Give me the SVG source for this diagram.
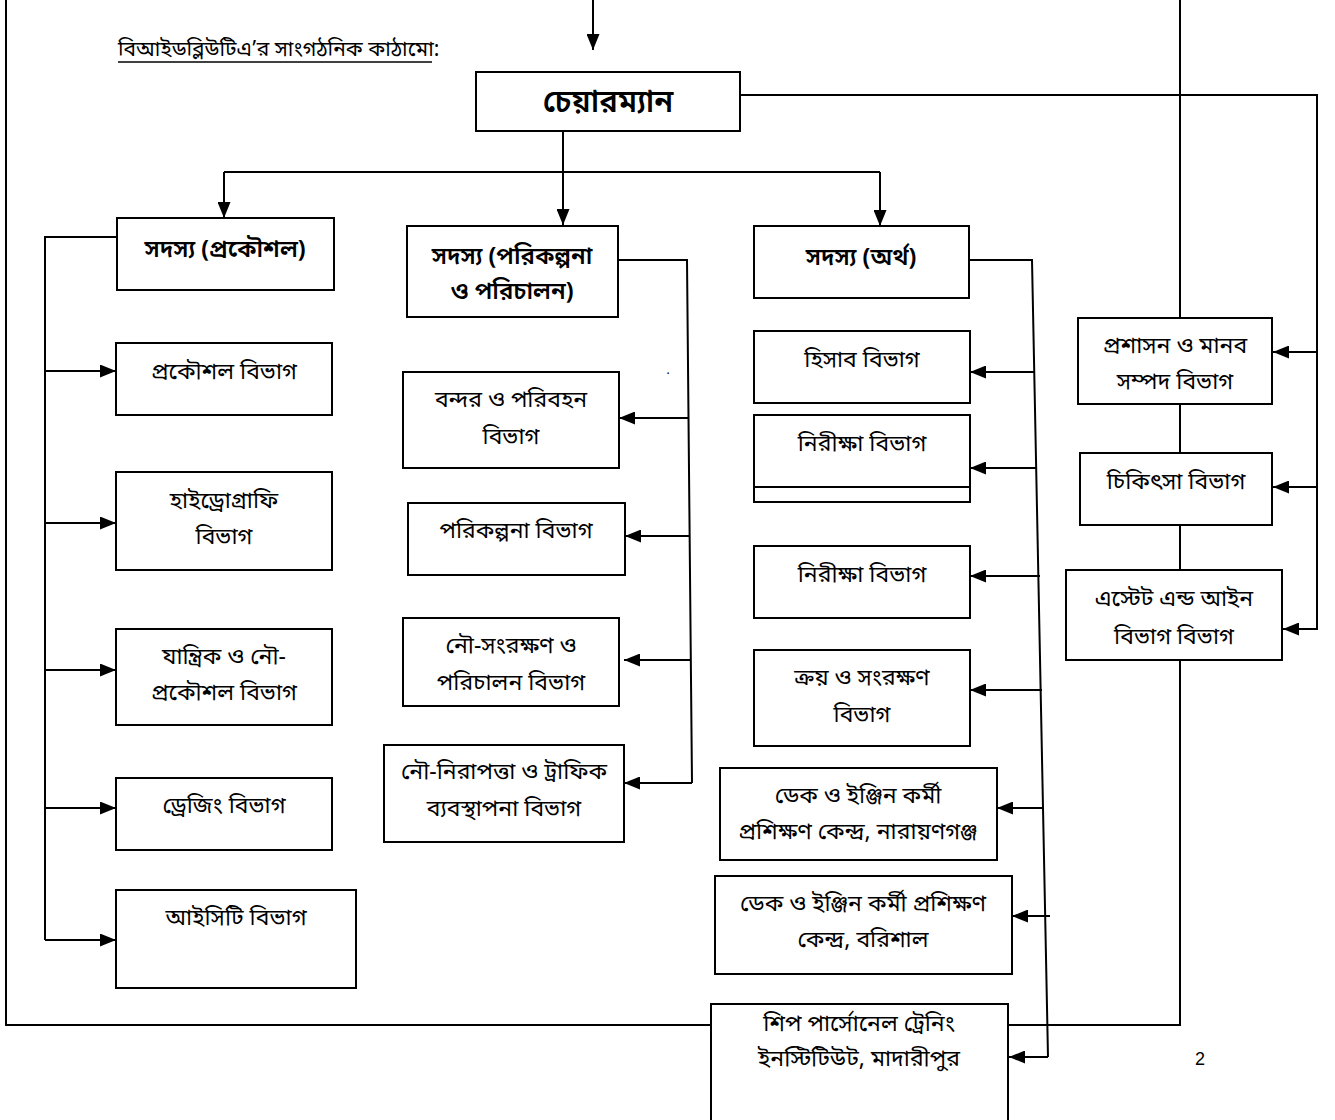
<svg xmlns="http://www.w3.org/2000/svg" width="1335" height="1120" viewBox="0 0 1335 1120">
<style>
.ln{fill:none;stroke:#000;stroke-width:2}
.bx{fill:#fff;stroke:#000;stroke-width:2}
.t{font-family:"Noto Sans Bengali","Noto Serif Bengali","Lohit Bengali","Noto Sans","Liberation Sans",sans-serif;font-size:23px;text-anchor:middle;fill:#000}
.b{font-weight:600;font-size:24px}
</style>
<defs>
<marker id="ah" viewBox="0 0 16 13" refX="16" refY="6.5" markerWidth="16" markerHeight="13" markerUnits="userSpaceOnUse" orient="auto"><path d="M0,0 L16,6.5 L0,13 z" fill="#000"/></marker>
</defs>
<rect width="1335" height="1120" fill="#fff"/>
<g id="connectors">
<polyline class="ln" points="6,0 6,1025 1180,1025 1180,0"/>
<line class="ln" x1="593" y1="0" x2="593" y2="50" marker-end="url(#ah)"/>
<polyline class="ln" points="740,95 1317,95 1317,630"/>
<line class="ln" x1="1317" y1="352" x2="1273" y2="352" marker-end="url(#ah)"/>
<line class="ln" x1="1317" y1="487" x2="1273" y2="487" marker-end="url(#ah)"/>
<line class="ln" x1="1317" y1="629" x2="1283" y2="629" marker-end="url(#ah)"/>
<polyline class="ln" points="563,131 563,172"/>
<polyline class="ln" points="224,172 880,172"/>
<line class="ln" x1="224" y1="172" x2="224" y2="218" marker-end="url(#ah)"/>
<line class="ln" x1="563" y1="172" x2="563" y2="225" marker-end="url(#ah)"/>
<line class="ln" x1="880" y1="172" x2="880" y2="226" marker-end="url(#ah)"/>
<polyline class="ln" points="117,237 45,237 45,940"/>
<line class="ln" x1="45" y1="371" x2="116" y2="371" marker-end="url(#ah)"/>
<line class="ln" x1="45" y1="523" x2="116" y2="523" marker-end="url(#ah)"/>
<line class="ln" x1="45" y1="670" x2="116" y2="670" marker-end="url(#ah)"/>
<line class="ln" x1="45" y1="808" x2="116" y2="808" marker-end="url(#ah)"/>
<line class="ln" x1="45" y1="940" x2="116" y2="940" marker-end="url(#ah)"/>
<polyline class="ln" points="618,260 687,260 692,783"/>
<line class="ln" x1="688" y1="418" x2="619" y2="418" marker-end="url(#ah)"/>
<line class="ln" x1="689" y1="536" x2="625" y2="536" marker-end="url(#ah)"/>
<line class="ln" x1="691" y1="660" x2="624" y2="660" marker-end="url(#ah)"/>
<line class="ln" x1="692" y1="783" x2="624" y2="783" marker-end="url(#ah)"/>
<polyline class="ln" points="969,260 1032,260 1048,1057"/>
<line class="ln" x1="1035" y1="372" x2="970" y2="372" marker-end="url(#ah)"/>
<line class="ln" x1="1037" y1="468" x2="970" y2="468" marker-end="url(#ah)"/>
<line class="ln" x1="1040" y1="576" x2="970" y2="576" marker-end="url(#ah)"/>
<line class="ln" x1="1042" y1="690" x2="970" y2="690" marker-end="url(#ah)"/>
<line class="ln" x1="1043" y1="808" x2="997" y2="808" marker-end="url(#ah)"/>
<line class="ln" x1="1050" y1="916" x2="1012" y2="916" marker-end="url(#ah)"/>
<line class="ln" x1="1048" y1="1057" x2="1009" y2="1057" marker-end="url(#ah)"/>
</g>
<g id="title">
<text class="t" x="118" y="56" style="text-anchor:start;font-size:21px">বিআইডব্লিউটিএ’র সাংগঠনিক কাঠামো:</text>
<line x1="118" y1="62" x2="432" y2="62" stroke="#000" stroke-width="1.5"/>
</g>
<g id="chairman"><rect class="bx" x="476" y="72" width="264" height="59"/><text class="t b" x="608" y="112" style="font-size:31px">চেয়ারম্যান</text></g>
<g id="member-eng"><rect class="bx" x="117" y="218" width="217" height="72"/><text class="t b" x="225" y="257">সদস্য (প্রকৌশল)</text></g>
<g id="member-plan"><rect class="bx" x="407" y="226" width="211" height="91"/><text class="t b" x="512" y="264">সদস্য (পরিকল্পনা</text><text class="t b" x="512" y="299">ও পরিচালন)</text></g>
<g id="member-fin"><rect class="bx" x="754" y="226" width="215" height="72"/><text class="t b" x="861" y="265">সদস্য (অর্থ)</text></g>
<g id="eng-dept"><rect class="bx" x="116" y="343" width="216" height="72"/><text class="t" x="224" y="379">প্রকৌশল বিভাগ</text></g>
<g id="hydro"><rect class="bx" x="116" y="472" width="216" height="98"/><text class="t" x="224" y="508">হাইড্রোগ্রাফি</text><text class="t" x="224" y="544">বিভাগ</text></g>
<g id="mech"><rect class="bx" x="116" y="629" width="216" height="96"/><text class="t" x="224" y="664">যান্ত্রিক ও নৌ-</text><text class="t" x="224" y="700">প্রকৌশল বিভাগ</text></g>
<g id="dredging"><rect class="bx" x="116" y="778" width="216" height="72"/><text class="t" x="224" y="813">ড্রেজিং বিভাগ</text></g>
<g id="ict"><rect class="bx" x="116" y="890" width="240" height="98"/><text class="t" x="236" y="925">আইসিটি বিভাগ</text></g>
<text class="t" x="668" y="374" style="font-size:12px">.</text>
<g id="port"><rect class="bx" x="403" y="372" width="216" height="96"/><text class="t" x="511" y="407">বন্দর ও পরিবহন</text><text class="t" x="511" y="444">বিভাগ</text></g>
<g id="planning"><rect class="bx" x="408" y="503" width="217" height="72"/><text class="t" x="516" y="538">পরিকল্পনা বিভাগ</text></g>
<g id="conservancy"><rect class="bx" x="403" y="618" width="216" height="88"/><text class="t" x="511" y="653">নৌ-সংরক্ষণ ও</text><text class="t" x="511" y="690">পরিচালন বিভাগ</text></g>
<g id="safety"><rect class="bx" x="384" y="745" width="240" height="97"/><text class="t" x="504" y="779">নৌ-নিরাপত্তা ও ট্রাফিক</text><text class="t" x="504" y="816">ব্যবস্থাপনা বিভাগ</text></g>
<g id="accounts"><rect class="bx" x="754" y="331" width="216" height="72"/><text class="t" x="862" y="367">হিসাব বিভাগ</text></g>
<g id="audit1"><rect class="bx" x="754" y="415" width="216" height="87"/><line class="ln" x1="754" y1="487" x2="970" y2="487"/><text class="t" x="862" y="451">নিরীক্ষা বিভাগ</text></g>
<g id="audit2"><rect class="bx" x="754" y="546" width="216" height="72"/><text class="t" x="862" y="582">নিরীক্ষা বিভাগ</text></g>
<g id="purchase"><rect class="bx" x="754" y="650" width="216" height="96"/><text class="t" x="862" y="685">ক্রয় ও সংরক্ষণ</text><text class="t" x="862" y="722">বিভাগ</text></g>
<g id="deck-ng"><rect class="bx" x="720" y="768" width="277" height="92"/><text class="t" x="858" y="803">ডেক ও ইঞ্জিন কর্মী</text><text class="t" x="858" y="839">প্রশিক্ষণ কেন্দ্র, নারায়ণগঞ্জ</text></g>
<g id="deck-bs"><rect class="bx" x="715" y="876" width="297" height="98"/><text class="t" x="863" y="911">ডেক ও ইঞ্জিন কর্মী প্রশিক্ষণ</text><text class="t" x="863" y="947">কেন্দ্র, বরিশাল</text></g>
<g id="ship"><rect class="bx" x="711" y="1004" width="297" height="125"/><text class="t" x="859" y="1031">শিপ পার্সোনেল ট্রেনিং</text><text class="t" x="859" y="1066">ইনস্টিটিউট, মাদারীপুর</text></g>
<g id="admin"><rect class="bx" x="1078" y="318" width="194" height="86"/><text class="t" x="1175" y="353">প্রশাসন ও মানব</text><text class="t" x="1175" y="389">সম্পদ বিভাগ</text></g>
<g id="medical"><rect class="bx" x="1080" y="453" width="192" height="72"/><text class="t" x="1176" y="489">চিকিৎসা বিভাগ</text></g>
<g id="estate"><rect class="bx" x="1066" y="570" width="216" height="90"/><text class="t" x="1174" y="606">এস্টেট এন্ড আইন</text><text class="t" x="1174" y="644">বিভাগ বিভাগ</text></g>
<text x="1200" y="1065" style="font-family:'Liberation Sans',sans-serif;font-size:18px" text-anchor="middle">2</text>
</svg>
